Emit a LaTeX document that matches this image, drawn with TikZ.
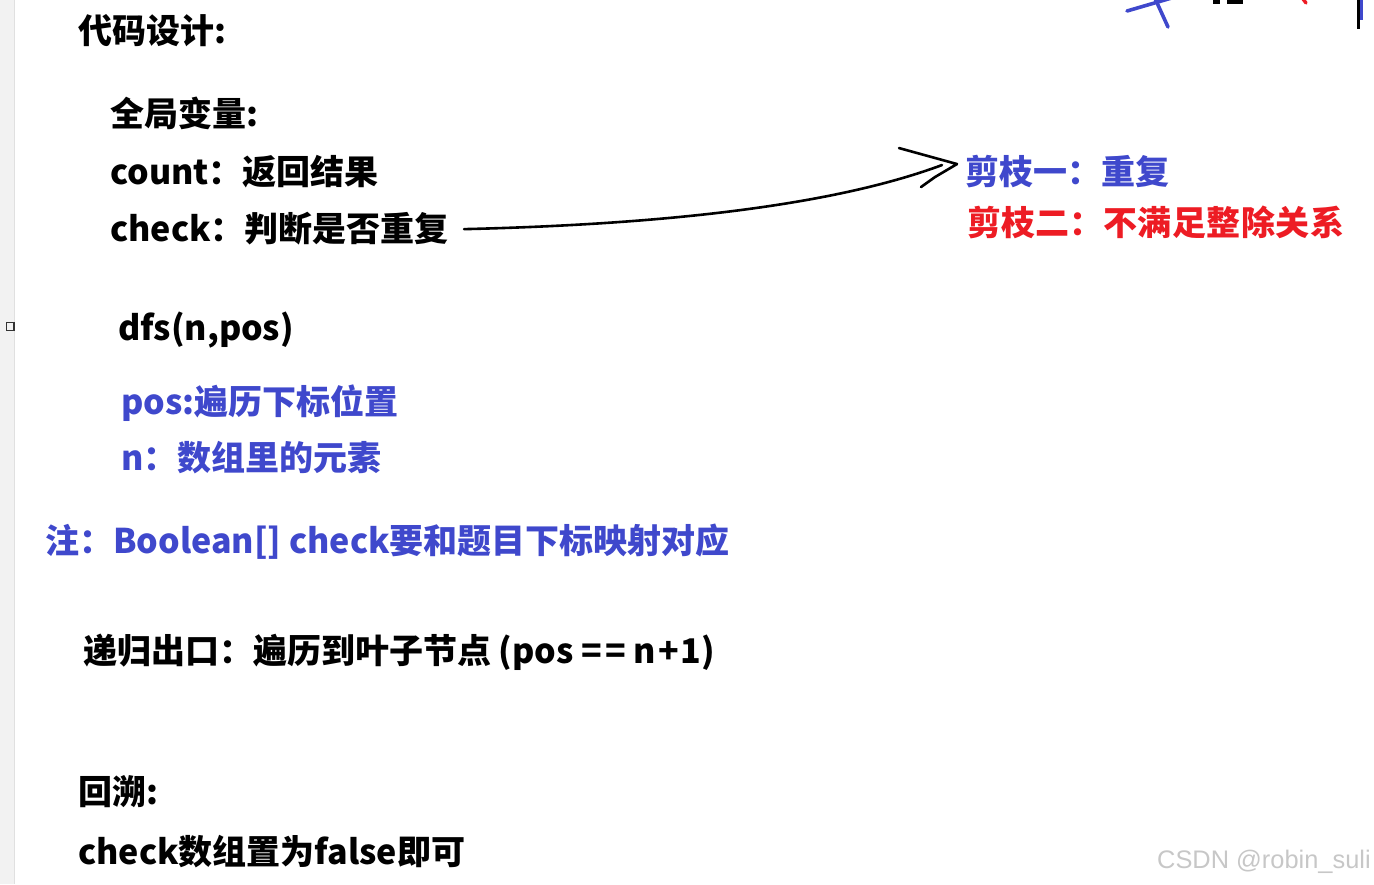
\documentclass[tikz,border=0pt]{standalone}
\usepackage{fontspec}
\setmainfont{Noto Sans CJK SC}
\newfontfamily\wmfont{Liberation Sans}
\usepackage{tikz}
\definecolor{penblue}{RGB}{63,72,204}
\definecolor{penred}{RGB}{237,28,36}

\begin{document}
\begin{tikzpicture}[x=1pt, y=-1pt,
    txt/.style={anchor=base west, inner sep=0pt, font=\fontsize{34}{40}\selectfont\bfseries},
    pen/.style={line width=2.6pt, line cap=round, line join=round}]
  \useasboundingbox (0,0) rectangle (1374,884);
  %%% left margin strip of the editor
  \fill[black!5] (0,0) rectangle (14,884);
  \draw[black!12, line width=1pt] (14.5,0) -- (14.5,884);
  \draw[black!80, line width=1.4pt] (6.7,322.7) rectangle (13.8,330.5);
  %%% cut-off strokes at the top right
  \draw[pen, penblue, line width=3.6pt] (1127,11) -- (1175,-3);
  \draw[pen, penblue, line width=3.6pt] (1153,-6) -- (1168,27);
  \fill[black] (1213,-2) rectangle (1220,4);
  \fill[black] (1227,-2) rectangle (1243,4);
  \draw[pen, penred, line width=3.4pt] (1300,-5) -- (1306,3);
  \draw[penblue, line width=3pt] (1361.5,-2) -- (1361.5,20);
  \draw[black, line width=2.6pt] (1358.6,-2) -- (1358.6,29);
  %%% global variables
  \node[txt] (title) at (78,43) {代码设计:};
  \node[txt] (glob) at (110,126) {全局变量:};
  \node[txt] (count) at (110,184) {count：返回结果};
  \node[txt] (check) at (110,241) {check：判断是否重复};
  %%% pruning notes
  \node[txt, text=penblue] (cut1) at (965,184) {剪枝一：重复};
  \node[txt, text=penred] (cut2) at (967,235) {剪枝二：不\kern.5pt满\kern.5pt足\kern.5pt整\kern.5pt除\kern.5pt关\kern.5pt系};
  %%% hand drawn arrow
  \coordinate (tip) at ([xshift=-8pt,yshift=7pt]cut1.west);
  \draw[pen] ([xshift=15pt,yshift=-1pt]check.east) .. controls (680,224) and (840,203) .. ([xshift=-15pt,yshift=-1pt]tip);
  \draw[pen] (tip) ++(-58,-16) -- (tip) -- ++(-22,13) -- ++(-14,10);
  %%% dfs parameters
  \node[txt] (dfs) at (118,340) {dfs(n,pos)};
  \node[txt, text=penblue] (pos) at (121,414) {pos:遍历下标位置};
  \node[txt, text=penblue] (num) at (121,470) {n：数组里的元素};
  \node[txt, text=penblue] (note) at (45,553) {注：Boolean[] check要和题目下标映射对应};
  %%% exit and backtracking
  \node[txt] (exit) at (83,663) {递归出口：遍历到叶子节点 (pos =\kern3pt= n\kern2pt+\kern2pt1)};
  \node[txt] (back) at (78,804) {回溯:};
  \node[txt] (reset) at (78,864) {check数组置为false即可};
  %%% watermark
  \node[anchor=base west, inner sep=0pt, text=black!22, font=\wmfont\fontsize{25.4}{30}\selectfont] (mark) at (1157,868) {CSDN @robin\_suli};
\end{tikzpicture}
\end{document}
